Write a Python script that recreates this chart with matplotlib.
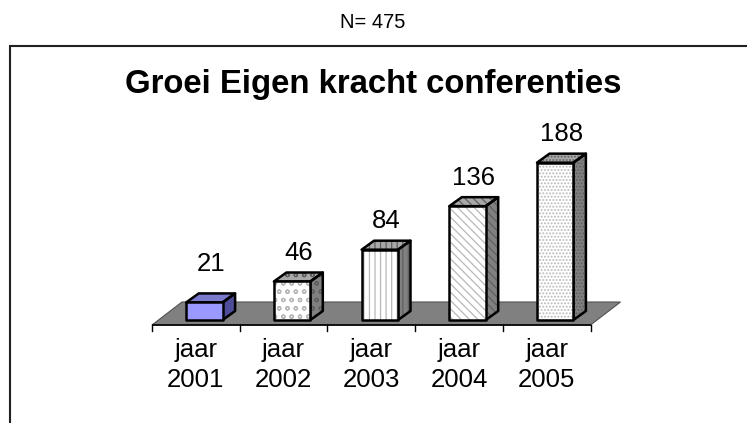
import matplotlib
matplotlib.use("Agg")
import matplotlib.pyplot as plt
from matplotlib.patches import Polygon, Rectangle

plt.rcParams['font.family'] = ['Liberation Sans', 'DejaVu Sans']
plt.rcParams['hatch.linewidth'] = 0.9

# ---- data ----
categories = ["jaar\n2001", "jaar\n2002", "jaar\n2003", "jaar\n2004", "jaar\n2005"]
values = [21, 46, 84, 136, 188]
title = "Groei Eigen kracht conferenties"
subtitle = "N= 475"

# ---- styles ----
front_colors = ['#9999FF', 'white', 'white', 'white', 'white']
top_colors = ['#7A7ACC', '#A8A8A8', '#A8A8A8', '#A8A8A8', '#A8A8A8']
side_colors = ['#4D4D99', '#808080', '#808080', '#808080', '#808080']
hatches = [None, 'oo', '|||', '\\\\\\\\', '.....']
hatch_front = '#B8B8B8'
hatch_dark = '#606060'

W, H = 747, 423
fig = plt.figure(figsize=(W / 100, H / 100), dpi=100)
ax = fig.add_axes([0, 0, 1, 1])

# layout (pixels)
PX_X = 87.7      # px per category
PX_Y = 0.837     # px per value unit
X0_PX = 152      # left edge of category axis
Y0_PX = 320      # baseline (value 0) from top
ax.set_xlim(-0.5 - X0_PX / PX_X, -0.5 + (W - X0_PX) / PX_X)
ax.set_ylim(-(H - Y0_PX) / PX_Y, Y0_PX / PX_Y)
ax.axis('off')

n = len(values)
floor_front = -5 / PX_Y
fdx, fdy = 30 / PX_X, 23 / PX_Y        # floor depth
bdx, bdy = 12.5 / PX_X, 9 / PX_Y       # bar depth
bar_l, bar_w = -0.11, 0.415            # bar front offset/width

# floor
floor = Polygon([(-0.5, floor_front), (n - 0.5, floor_front),
                 (n - 0.5 + fdx, floor_front + fdy), (-0.5 + fdx, floor_front + fdy)],
                closed=True, facecolor='#808080', edgecolor='#505050', lw=0.8, zorder=1)
ax.add_patch(floor)
ax.plot([-0.5, n - 0.5], [floor_front, floor_front], color='black', lw=1.2, zorder=2,
        solid_capstyle='butt')
for k in range(n + 1):
    ax.plot([k - 0.5, k - 0.5], [floor_front, floor_front - 6 / PX_Y], color='black',
            lw=1.0, zorder=2)


def face(pts, fc, hatch, hc, z):
    ax.add_patch(Polygon(pts, closed=True, facecolor=fc, edgecolor=hc if hatch else fc,
                         hatch=hatch, lw=0, zorder=z))
    ax.add_patch(Polygon(pts, closed=True, facecolor='none', edgecolor='black',
                         lw=1.8, joinstyle='round', zorder=z + 0.1))


for i, v in enumerate(values):
    x1 = i + bar_l
    x2 = x1 + bar_w
    front = [(x1, 0), (x2, 0), (x2, v), (x1, v)]
    side = [(x2, 0), (x2 + bdx, bdy), (x2 + bdx, v + bdy), (x2, v)]
    top = [(x1, v), (x2, v), (x2 + bdx, v + bdy), (x1 + bdx, v + bdy)]
    h = hatches[i]
    face(side, side_colors[i], h, hatch_dark, 3)
    face(top, top_colors[i], h, hatch_dark, 3)
    face(front, front_colors[i], h, hatch_front, 4)
    # value label
    ly = max(v, 33) + 34
    ax.text(x1 + bar_w / 2 + bdx / 2, ly, str(v), ha='center', va='center',
            fontsize=18.5, color='black', zorder=6)
    # category label
    ax.text(i, -54, categories[i], ha='center', va='center', fontsize=18.5,
            linespacing=1.3, zorder=6)

# frame
fig.patches.append(Rectangle((10 / W, -0.1), 1.0, 1.1 - 46 / H, transform=fig.transFigure,
                             facecolor='none', edgecolor='#202020', lw=1.5, zorder=0))

fig.text(373 / W, 1 - 85 / H, title, ha='center', va='center', fontsize=23.7,
         fontweight='bold')
fig.text(373 / W, 1 - 22 / H, subtitle, ha='center', va='center', fontsize=14.5)

fig.savefig('out.png', dpi=100)
